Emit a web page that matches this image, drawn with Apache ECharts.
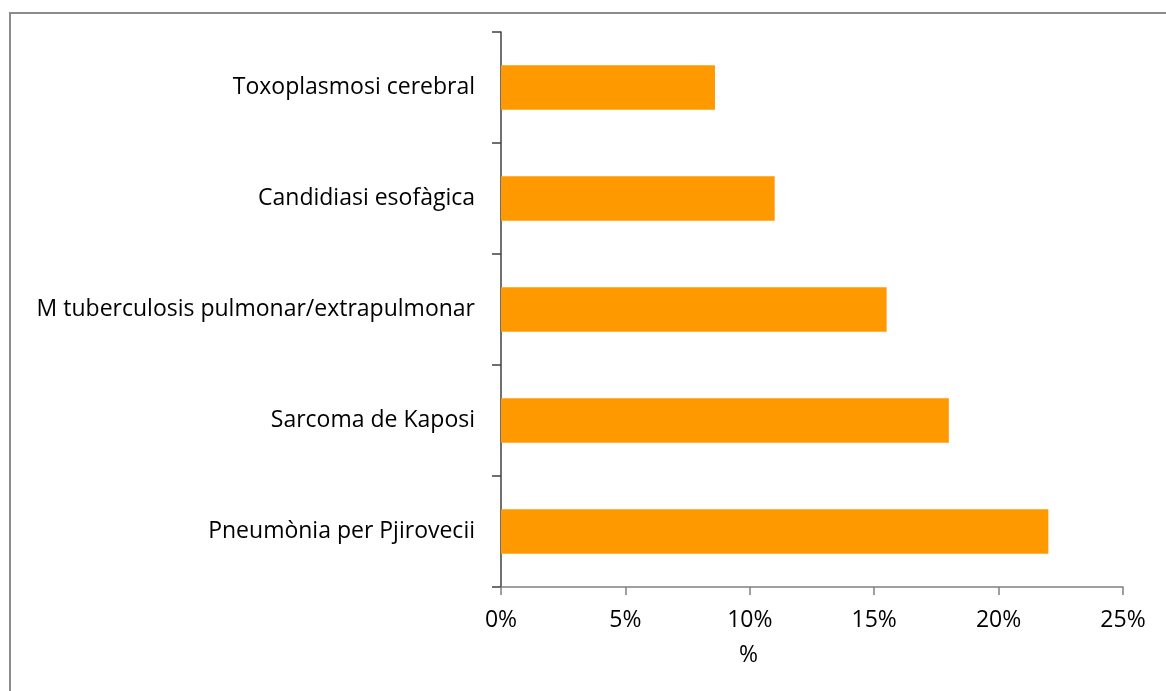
<!DOCTYPE html>
<html>
<head>
<meta charset="utf-8">
<script src="https://cdn.jsdelivr.net/npm/echarts@6/dist/echarts.min.js"></script>
<style>
  html, body { margin: 0; padding: 0; background: #fff; }
  #main { width: 1166px; height: 691px; }
</style>
</head>
<body>
<div id="main"></div>
<script>
var categories = ['Pneumònia per Pjirovecii', 'Sarcoma de Kaposi', 'M tuberculosis pulmonar/extrapulmonar', 'Candidiasi esofàgica', 'Toxoplasmosi cerebral'];
var values = [22.0, 18.0, 15.5, 11.0, 8.6];
var xTicks = [0, 5, 10, 15, 20, 25];

var myChart = echarts.init(document.getElementById('main'));
var font = '"Open Sans", "Noto Sans", sans-serif';
var option = {
    backgroundColor: '#fff',
    animation: false,
    graphic: [
        {
            type: 'rect',
            shape: { x: 10, y: 13, width: 1200, height: 720 },
            style: { fill: 'none', stroke: '#8c8c8c', lineWidth: 2 }
        },
        {
            type: 'text',
            left: 739,
            top: 644,
            style: { text: '%', fill: '#000', font: '23px ' + font }
        }
    ],
    grid: {
        left: 501,
        right: 43,
        top: 32,
        bottom: 104
    },
    xAxis: {
        type: 'value',
        min: xTicks[0],
        max: xTicks[xTicks.length - 1],
        interval: 5,
        axisLine: { show: true, lineStyle: { color: '#808080', width: 1.5 } },
        axisTick: { show: true, length: 8, lineStyle: { color: '#808080', width: 1.5 } },
        splitLine: { show: false },
        axisLabel: {
            margin: 22,
            color: '#000',
            fontSize: 23,
            fontFamily: font,
            formatter: function (v) { return v + '%'; }
        }
    },
    yAxis: {
        type: 'category',
        data: categories,
        axisLine: { show: true, lineStyle: { color: '#404040', width: 1.5 } },
        axisTick: { show: true, length: 9, lineStyle: { color: '#404040', width: 1.5 } },
        axisLabel: {
            margin: 26,
            color: '#000',
            fontSize: 23,
            fontFamily: font
        }
    },
    series: [{
        type: 'bar',
        data: values,
        barCategoryGap: '60%',
        itemStyle: { color: '#ff9900' }
    }]
};
myChart.setOption(option);
</script>
</body>
</html>
